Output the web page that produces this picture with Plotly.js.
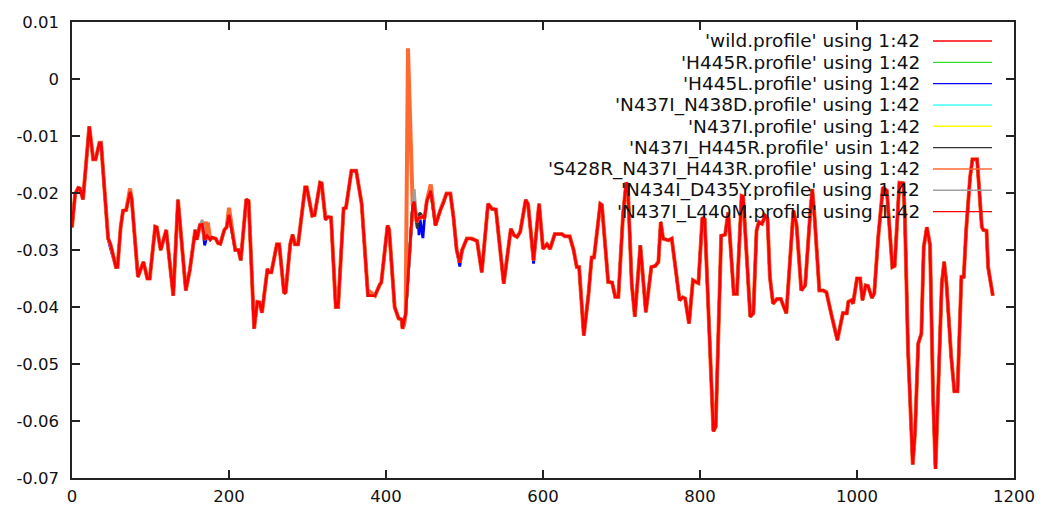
<!DOCTYPE html>
<html>
<head>
<meta charset="utf-8">
<script src="https://cdn.plot.ly/plotly-3.0.1.min.js"></script>
<style>html,body{margin:0;padding:0;background:#fff;}#chart{width:1043px;height:508px;}</style>
</head>
<body>
<div id="chart"></div>
<script>
// ---- data ----
const seriesNames = [
  "'wild.profile' using 1:42",
  "'H445R.profile' using 1:42",
  "'H445L.profile' using 1:42",
  "'N437I_N438D.profile' using 1:42",
  "'N437I.profile' using 1:42",
  "'N437I_H445R.profile' usin 1:42",
  "'S428R_N437I_H443R.profile' using 1:42",
  "'N434I_D435Y.profile' using 1:42",
  "'N437I_L440M.profile' using 1:42"
];
const seriesColors = ["#ff0000","#33dd33","#0000ff","#44ffff","#ffff00","#333333","#ff6a30","#a0a0a0","#ff0000"];

// residue positions and wild-type profile values
const residue = [0,4,8,10,14,22,27,30,35,37,46,49,56,58,62,65,69,72,74,76,84,91,96,99,106,108,113,120,129,135,145,150,157,159,163,166,169,172,176,178,183,186,189,194,197,200,208,212,215,222,225,232,236,239,242,249,250,254,261,264,270,272,278,281,284,288,297,299,306,309,316,318,323,325,328,330,336,339,346,349,356,362,369,377,380,386,392,394,402,404,411,416,420,421,425,434,436,439,441,443,447,449,452,457,463,469,474,477,482,486,490,494,497,503,509,516,522,530,535,540,550,559,563,567,571,578,581,588,595,600,605,609,615,624,628,634,639,643,646,652,658,662,665,673,675,683,688,692,696,702,706,708,713,717,724,731,738,743,747,750,753,760,764,768,774,778,781,786,791,795,798,803,806,817,820,827,832,836,843,847,853,855,864,868,872,875,879,883,886,889,893,898,903,906,910,919,923,929,934,940,943,946,952,957,961,968,975,982,987,989,993,995,1000,1004,1007,1011,1014,1019,1022,1027,1033,1038,1045,1048,1054,1059,1061,1065,1071,1074,1078,1082,1085,1089,1093,1097,1100,1103,1108,1111,1114,1120,1124,1128,1131,1133,1136,1139,1144,1147,1153,1159,1161,1165,1167,1173];
const wild = [-0.026,-0.0202,-0.0191,-0.0192,-0.0211,-0.0083,-0.0141,-0.0141,-0.0112,-0.0112,-0.028,-0.029,-0.033,-0.033,-0.026,-0.0231,-0.023,-0.0208,-0.0198,-0.021,-0.0347,-0.0321,-0.035,-0.035,-0.0259,-0.026,-0.030,-0.0265,-0.038,-0.0212,-0.0371,-0.0336,-0.0265,-0.0282,-0.0256,-0.0255,-0.0282,-0.0275,-0.0282,-0.0278,-0.028,-0.0288,-0.0289,-0.0265,-0.026,-0.0238,-0.030,-0.030,-0.0318,-0.0211,-0.0214,-0.0438,-0.0391,-0.0392,-0.041,-0.0333,-0.0339,-0.0339,-0.029,-0.029,-0.0374,-0.0376,-0.029,-0.0273,-0.029,-0.029,-0.019,-0.019,-0.024,-0.0239,-0.0182,-0.0183,-0.0247,-0.0242,-0.0243,-0.0243,-0.040,-0.040,-0.0227,-0.0226,-0.0161,-0.0161,-0.0219,-0.038,-0.038,-0.038,-0.0361,-0.0357,-0.0257,-0.0264,-0.040,-0.042,-0.0422,-0.0438,-0.0413,-0.0222,-0.0215,-0.0251,-0.0245,-0.0243,-0.0241,-0.0245,-0.0214,-0.0196,-0.0257,-0.0231,-0.0214,-0.0201,-0.0201,-0.0243,-0.030,-0.0322,-0.030,-0.028,-0.028,-0.0284,-0.0339,-0.0219,-0.0228,-0.0229,-0.0359,-0.0263,-0.0274,-0.0277,-0.0268,-0.0212,-0.022,-0.0318,-0.0219,-0.0298,-0.029,-0.0298,-0.0272,-0.0272,-0.0276,-0.0276,-0.030,-0.033,-0.033,-0.045,-0.0377,-0.0313,-0.0313,-0.0219,-0.0221,-0.0356,-0.0357,-0.0382,-0.0382,-0.0237,-0.0182,-0.0186,-0.0359,-0.0417,-0.0292,-0.0409,-0.033,-0.0328,-0.0321,-0.0251,-0.028,-0.0283,-0.028,-0.0324,-0.0388,-0.0383,-0.0385,-0.0429,-0.0353,-0.0356,-0.0358,-0.0243,-0.0246,-0.0618,-0.061,-0.0275,-0.0273,-0.0234,-0.0377,-0.0377,-0.0205,-0.0206,-0.0417,-0.0411,-0.0266,-0.0251,-0.0254,-0.024,-0.0245,-0.0347,-0.0394,-0.0386,-0.0386,-0.0397,-0.0411,-0.0231,-0.0256,-0.0371,-0.0362,-0.0243,-0.0193,-0.0243,-0.0371,-0.0371,-0.0374,-0.0417,-0.0458,-0.0411,-0.0411,-0.0391,-0.0388,-0.0394,-0.035,-0.035,-0.0388,-0.0362,-0.0363,-0.0384,-0.0376,-0.0278,-0.019,-0.0196,-0.033,-0.0328,-0.0182,-0.0183,-0.0243,-0.0476,-0.0676,-0.0618,-0.0464,-0.0447,-0.0295,-0.026,-0.0291,-0.0563,-0.0684,-0.0563,-0.0359,-0.0321,-0.0359,-0.0487,-0.0548,-0.0548,-0.0417,-0.0347,-0.0347,-0.0266,-0.0173,-0.0141,-0.0141,-0.026,-0.0265,-0.0266,-0.033,-0.038];

// positions where a mutant differs from the wild profile, and its values there
const h445rPos = [437,440,443];
const h445rVal = [-0.0230,-0.0255,-0.0238];
const h445lPos = [49,169,440,442,447,494,588];
const h445lVal = [-0.0297,-0.0292,-0.0262,-0.0274,-0.0279,-0.0329,-0.0324];
const n438dPos = [435,438];
const n438dVal = [-0.0210,-0.0240];
const n437iPos = [];
const n437iVal = [];
const h445rDblPos = [437,440,443];
const h445rDblVal = [-0.0228,-0.0262,-0.0235];
const s428rPos = [74,170,173,200,380,423,428,457];
const s428rVal = [-0.0192,-0.0250,-0.0252,-0.0226,-0.0374,-0.0432,0.0054,-0.0185];
const n434iPos = [166,436];
const n434iVal = [-0.0247,-0.0193];
const l440mPos = [];
const l440mVal = [];

const diffPos = [[],h445rPos,h445lPos,n438dPos,n437iPos,h445rDblPos,s428rPos,n434iPos,l440mPos];
const diffVal = [[],h445rVal,h445lVal,n438dVal,n437iVal,h445rDblVal,s428rVal,n434iVal,l440mVal];

const xTicks = [0,200,400,600,800,1000,1200];
const yTicks = [-0.07,-0.06,-0.05,-0.04,-0.03,-0.02,-0.01,0,0.01];
const yTickText = ["-0.07","-0.06","-0.05","-0.04","-0.03","-0.02","-0.01","0","0.01"];

// ---- build each series from the wild profile plus its differences ----
function buildSeries(pos, val) {
  const m = new Map();
  residue.forEach((r, i) => m.set(r, wild[i]));
  pos.forEach((p, i) => m.set(p, val[i]));
  const xs = Array.from(m.keys()).sort((a, b) => a - b);
  return {x: xs, y: xs.map(k => m.get(k))};
}

const FONT = "DejaVu Sans, Verdana, sans-serif";
const traces = seriesNames.map((name, i) => {
  const s = buildSeries(diffPos[i], diffVal[i]);
  return {
    type: "scatter", mode: "lines", name: name,
    x: s.x, y: s.y,
    line: {color: seriesColors[i], width: i === 6 ? 4 : 2.8},
    showlegend: false, hoverinfo: "skip"
  };
});

// gnuplot-style key: right-aligned text followed by a line sample
const keyTop = 41, keyStep = 21.33, plotTop = 22, plotH = 456, plotL = 72, plotW = 942;
const annotations = [], shapes = [];
seriesNames.forEach((name, i) => {
  const py = keyTop + i * keyStep;
  const yp = 1 - (py - plotTop) / plotH;
  annotations.push({
    xref: "paper", yref: "paper", x: (922 - plotL) / plotW, y: yp,
    xanchor: "right", yanchor: "middle", showarrow: false, text: name,
    font: {family: FONT, size: 18.5, color: "#111"}
  });
  shapes.push({
    type: "line", xref: "paper", yref: "paper",
    x0: (933 - plotL) / plotW, x1: (992 - plotL) / plotW, y0: yp, y1: yp,
    line: {color: seriesColors[i], width: 1.4}
  });
});

const layout = {
  width: 1043, height: 508,
  margin: {l: 72, r: 29, t: 22, b: 30, pad: 0},
  paper_bgcolor: "#ffffff", plot_bgcolor: "#ffffff",
  font: {family: FONT, size: 16, color: "#111"},
  showlegend: false,
  xaxis: {
    range: [0, 1200], tickvals: xTicks, ticktext: xTicks.map(String),
    ticks: "inside", ticklen: 8, tickwidth: 1.5, tickcolor: "#222",
    showline: true, linecolor: "#222", linewidth: 1.6, mirror: "ticks",
    showgrid: false, zeroline: false, ticklabelstandoff: 3,
    tickfont: {family: FONT, size: 16.5, color: "#111"}
  },
  yaxis: {
    range: [-0.07, 0.01], tickvals: yTicks, ticktext: yTickText,
    ticks: "inside", ticklen: 8, tickwidth: 1.5, tickcolor: "#222",
    showline: true, linecolor: "#222", linewidth: 1.6, mirror: "ticks",
    showgrid: false, zeroline: false, ticklabelstandoff: 8,
    tickfont: {family: FONT, size: 16.5, color: "#111"}
  },
  annotations: annotations,
  shapes: shapes
};

Plotly.newPlot("chart", traces, layout, {displayModeBar: false, staticPlot: true});
</script>
</body>
</html>
